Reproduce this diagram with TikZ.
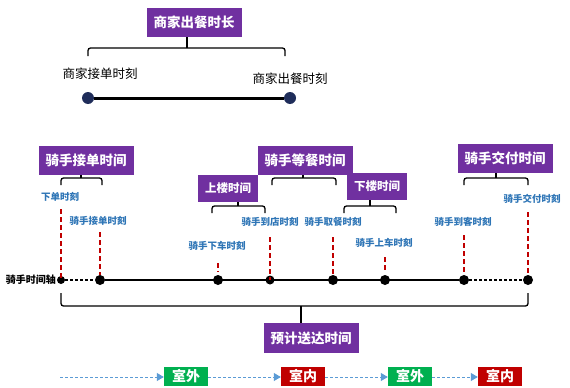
\documentclass[tikz,border=0pt]{standalone}
\usepackage{fontspec}
\setmainfont{Noto Sans CJK SC}
\usepackage{xcolor}
\usetikzlibrary{positioning,arrows.meta,calc}
\definecolor{boxpurple}{HTML}{7030A0}
\definecolor{lblblue}{HTML}{2E75B6}
\definecolor{tickred}{HTML}{C00000}
\definecolor{dotnavy}{HTML}{1F2D5A}
\definecolor{outgreen}{HTML}{00B050}
\definecolor{inred}{HTML}{C00000}
\definecolor{flowblue}{HTML}{5B9BD5}

\begin{document}
\begin{tikzpicture}[
    x=1pt, y=-1pt,
    >=Stealth,
    title/.style={
        rectangle, fill=boxpurple, text=white, inner sep=0pt,
        minimum width=95pt, minimum height=29pt,
        font=\fontsize{13.5}{15}\selectfont\bfseries
    },
    subtitle/.style={
        rectangle, fill=boxpurple, text=white, inner sep=0pt,
        minimum width=60pt, minimum height=27pt,
        font=\fontsize{11.5}{13}\selectfont\bfseries
    },
    stamp/.style={text=lblblue, inner sep=1pt, font=\fontsize{9.5}{11}\selectfont\bfseries},
    shop/.style={text=black, inner sep=1pt, font=\fontsize{12.5}{14}\selectfont},
    dot/.style={circle, fill=black, inner sep=0pt, minimum size=10pt},
    ndot/.style={circle, fill=dotnavy, inner sep=0pt, minimum size=12pt},
    tick/.style={tickred, line width=1.6pt, dash pattern=on 5pt off 3pt},
    brk/.style={line width=1.3pt, rounded corners=2.5pt},
    zone/.style={
        rectangle, text=white, inner sep=0pt,
        minimum width=44pt, minimum height=19pt,
        font=\fontsize{14}{15}\selectfont\bfseries
    },
    flow/.style={-{Triangle[width=8pt,length=7pt]}, flowblue, line width=1pt, dash pattern=on 3pt off 2pt}
]
\useasboundingbox (0,0) rectangle (570,388);

% ---------------- Merchant part ----------------
\node[ndot] (m1) at (88,98) {};
\node[ndot] (m2) at (290,98) {};
\draw[line width=3pt] (m1) -- (m2);
\node[shop] (macc) at (100,74) {商家接单时刻};
\node[shop] (mout) at (290,79) {商家出餐时刻};
\node[title] (cook) at (194,22) {商家出餐时长};
\draw[brk] (88,56) |- (285,48) -- (285,56);
\draw[brk] (187,48) -- (cook.south -| 187,0);

% ---------------- Rider time axis ----------------
\node[dot, minimum size=8pt] (t1) at (61,280) {};
\node[dot] (t2) at (100,280) {};
\node[dot] (t3) at (218,280) {};
\node[dot, minimum size=9pt] (t4) at (270,280) {};
\node[dot] (t5) at (333,280) {};
\node[dot] (t6) at (385,280) {};
\node[dot] (t7) at (464,280) {};
\node[dot] (t8) at (528,280) {};

\draw[line width=1.5pt, dash pattern=on 3pt off 2pt] (t1) -- (t2);
\draw[line width=1.8pt] (t2) -- (t7);
\draw[line width=1.5pt, dash pattern=on 3pt off 2pt] (t7) -- (t8);
\node[anchor=east, inner sep=1pt, font=\fontsize{10}{12}\selectfont\bfseries] (axis) at (57,280) {骑手时间轴};

% blue stamps + red ticks
\node[stamp] (s1) at (60,197) {下单时刻};
\node[stamp] (s2) at (98,221) {骑手接单时刻};
\node[stamp] (s3) at (217,246) {骑手下车时刻};
\node[stamp] (s4) at (270,222) {骑手到店时刻};
\node[stamp] (s5) at (333,222) {骑手取餐时刻};
\node[stamp] (s6) at (384,243) {骑手上车时刻};
\node[stamp] (s7) at (463,222) {骑手到客时刻};
\node[stamp] (s8) at (532,199) {骑手交付时刻};

\draw[tick] (t1 |- 0,209) -- (t1.center);
\draw[tick] (t2 |- 0,232) -- (t2.north);
\draw[tick] (t3 |- 0,263) -- (t3 |- 0,272);
\draw[tick] (t4 |- 0,237) -- (t4.center);
\draw[tick] (t5 |- 0,237) -- (t5.north);
\draw[tick] (t6 |- 0,257) -- (t6 |- 0,270);
\draw[tick] (t7 |- 0,235) -- (t7.north);
\draw[tick] (t8 |- 0,212) -- (t8.north);

% phase boxes + brackets
\node[title]    (take)  at (86,160)  {骑手接单时间};
\node[subtitle] (up)    at (228,188) {上楼时间};
\node[title]    (wait)  at (305,160) {骑手等餐时间};
\node[subtitle] (down)  at (377,186) {下楼时间};
\node[title]    (hand)  at (505,158) {骑手交付时间};

\draw[brk] (t1 |- 0,185) |- (102,178) -- (102,185);
\draw[brk] (81,178) -- (take.south -| 81,0);
\draw[brk] (212,213) |- (265,206) -- (265,213);
\draw[brk] (238,206) -- (up.south -| 238,0);
\draw[brk] (272,185) |- (336,178) -- (336,185);
\draw[brk] (303,178) -- (wait.south -| 303,0);
\draw[brk] (344,213) |- (396,206) -- (396,213);
\draw[brk] (370,206) -- (down.south -| 370,0);
\draw[brk] (t7 |- 0,185) |- (t8 |- 0,178) -- (t8 |- 0,185);
\draw[brk] (496,178) -- (hand.south -| 496,0);

% ---------------- Estimated delivery ----------------
\node[title, minimum height=30pt] (eta) at (311,338) {预计送达时间};
\draw[brk] (t1 |- 0,293) |- (t8 |- 0,306) -- (t8 |- 0,293);
\draw[brk] (301,306) -- (eta.north -| 301,0);

% ---------------- Outdoor / indoor ----------------
\coordinate (f0) at (60,377);
\node[zone, fill=outgreen] (z1) at (186,376) {室外};
\node[zone, fill=inred]    (z2) at (303,376) {室内};
\node[zone, fill=outgreen] (z3) at (410,376) {室外};
\node[zone, fill=inred]    (z4) at (500,376) {室内};

\draw[flow] (f0) -- (z1.west |- f0);
\draw[flow] (z1.east |- f0) -- (z2.west |- f0);
\draw[flow] (z2.east |- f0) -- (z3.west |- f0);
\draw[flow] (z3.east |- f0) -- (z4.west |- f0);

\end{tikzpicture}
\end{document}
